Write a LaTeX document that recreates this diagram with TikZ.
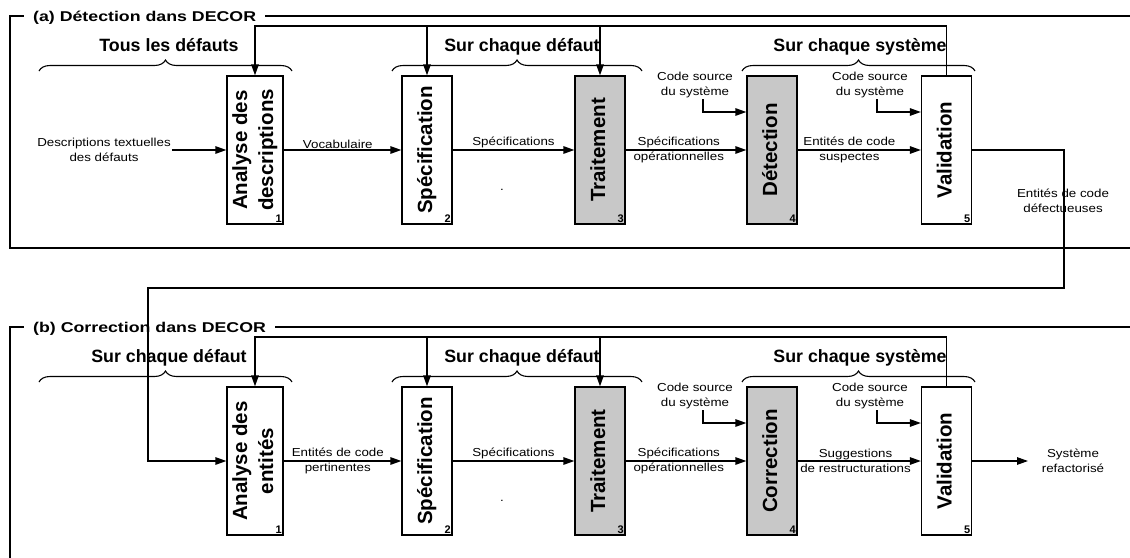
\documentclass[tikz,border=0pt]{standalone}
\usepackage{fontspec}
\setmainfont{Liberation Sans}
\newfontfamily\lblfont[FakeStretch=1.15]{Liberation Sans}
\newfontfamily\ttlfont[FakeStretch=1.25]{Liberation Sans}
\usepackage{graphicx}
\usetikzlibrary{arrows.meta}
\usetikzlibrary{decorations.pathreplacing}
\usetikzlibrary{positioning}

\definecolor{boxgray}{RGB}{200,200,200}
\newcommand{\stepname}[1]{\rotatebox{90}{\begin{tabular}{@{}c@{}}#1\end{tabular}}}

\tikzset{
  stepbox/.style={draw, line width=1.3pt, minimum width=50pt, minimum height=148pt, inner sep=0pt, font=\fontsize{20.5}{26}\selectfont\bfseries},
  darkbox/.style={stepbox, fill=boxgray},
  num/.style={anchor=south east, inner sep=1.8pt, font=\fontsize{11}{12}\selectfont\bfseries},
  lbl/.style={align=center, inner sep=1pt, font=\lblfont\fontsize{11.6}{15}\selectfont},
  ttl/.style={anchor=base west, fill=white, inner xsep=9pt, inner ysep=2pt, font=\ttlfont\fontsize{14.2}{17}\selectfont\bfseries},
  grp/.style={anchor=base, inner sep=0pt, font=\fontsize{17.8}{21}\selectfont\bfseries},
  panel/.style={line width=1.3pt},
  flow/.style={line width=1.3pt, -{Triangle[length=11pt, width=7.5pt]}},
  grpbrace/.style={decorate, decoration={brace, amplitude=11pt}, line width=1.1pt},
}

\begin{document}
\begin{tikzpicture}[x=1pt, y=-1pt]
	\useasboundingbox (0,0) rectangle (1130,557);

	% (a) detection
	\draw [panel] (1130,16) -- (10,16) -- (10,248) -- (1130,248);
	\node at (24,21) [ttl] (ttl1) {(a) Détection dans DECOR};

	\node at (169,51) [grp] (grp1) {Tous les défauts};
	\node at (522,51) [grp] (grp2) {Sur chaque défaut};
	\node at (860,51) [grp] (grp3) {Sur chaque système};
	\draw [grpbrace] (39,71) -- (292,71);
	\draw [grpbrace] (392,71) -- (642,71);
	\draw [grpbrace] (742,71) -- (975,71);

	\node at (255,150) [stepbox, minimum width=56pt] (ana1) {\stepname{Analyse des\\descriptions}};
	\node at (427,150) [stepbox] (spec1) {\stepname{Spécification}};
	\node at (600,150) [darkbox] (trt1) {\stepname{Traitement}};
	\node at (772,150) [darkbox] (det1) {\stepname{Détection}};
	\node at (946.5,150) [stepbox] (val1) {\stepname{Validation}};
	\node at (ana1.south east) [num] {1};
	\node at (spec1.south east) [num] {2};
	\node at (trt1.south east) [num] {3};
	\node at (det1.south east) [num] {4};
	\node at (val1.south east) [num] {5};

	\node at (104,150) [lbl] (in1) {Descriptions textuelles\\des défauts};
	\node at (695,85) [lbl] (src1) {Code source\\du système};
	\node at (870,85) [lbl] (src2) {Code source\\du système};
	\node at (1063,201) [lbl] (out1) {Entités de code\\défectueuses};
	\node at (502,190) [lbl] (dot1) {.};

	\draw [flow] (in1.east) -- (ana1.west);
	\draw [flow] (ana1) -- node [lbl, above, pos=0.46] {Vocabulaire} (spec1);
	\draw [flow] (spec1) -- node [lbl, above] {Spécifications} (trt1);
	\draw [flow] (trt1) -- node [lbl, pos=0.44] {Spécifications\\opérationnelles} (det1);
	\draw [flow] (det1) -- node [lbl, pos=0.42] {Entités de code\\suspectes} (val1);
	\draw [flow] ([xshift=8pt]src1.south) |- ([yshift=38pt]det1.west);
	\draw [flow] ([xshift=7pt]src2.south) |- ([yshift=38pt]val1.west);

	\coordinate (fbtop1) at (0,26);
	\draw [flow] (val1.north) |- (ana1.north |- fbtop1) -- (ana1.north);
	\draw [flow] (spec1.north |- fbtop1) -- (spec1.north);
	\draw [flow] (trt1.north |- fbtop1) -- (trt1.north);

	% (b) correction
	\draw [panel] (1130,327) -- (10,327) -- (10,570);
	\node at (24,332) [ttl] (ttl2) {(b) Correction dans DECOR};

	\node at (169,362) [grp] (grp4) {Sur chaque défaut};
	\node at (522,362) [grp] (grp5) {Sur chaque défaut};
	\node at (860,362) [grp] (grp6) {Sur chaque système};
	\draw [grpbrace] (39,382) -- (292,382);
	\draw [grpbrace] (392,382) -- (642,382);
	\draw [grpbrace] (742,382) -- (975,382);

	\node at (255,461) [stepbox, minimum width=56pt] (ana2) {\stepname{Analyse des\\entités}};
	\node at (427,461) [stepbox] (spec2) {\stepname{Spécification}};
	\node at (600,461) [darkbox] (trt2) {\stepname{Traitement}};
	\node at (772,461) [darkbox] (cor2) {\stepname{Correction}};
	\node at (946.5,461) [stepbox] (val2) {\stepname{Validation}};
	\node at (ana2.south east) [num] {1};
	\node at (spec2.south east) [num] {2};
	\node at (trt2.south east) [num] {3};
	\node at (cor2.south east) [num] {4};
	\node at (val2.south east) [num] {5};

	\node at (695,396) [lbl] (src3) {Code source\\du système};
	\node at (870,396) [lbl] (src4) {Code source\\du système};
	\node at (1073,461) [lbl] (out2) {Système\\refactorisé};
	\node at (502,501) [lbl] (dot2) {.};
	\coordinate (sysend) at (1028,461);

	\draw [flow] (ana2) -- node [lbl, pos=0.46] {Entités de code\\pertinentes} (spec2);
	\draw [flow] (spec2) -- node [lbl, above] {Spécifications} (trt2);
	\draw [flow] (trt2) -- node [lbl, pos=0.44] {Spécifications\\opérationnelles} (cor2);
	\draw [flow] (cor2) -- node [lbl, pos=0.47] {Suggestions\\de restructurations} (val2);
	\draw [flow] (val2) -- (sysend);
	\draw [flow] ([xshift=8pt]src3.south) |- ([yshift=38pt]cor2.west);
	\draw [flow] ([xshift=7pt]src4.south) |- ([yshift=38pt]val2.west);

	\coordinate (fbtop2) at (0,337);
	\draw [flow] (val2.north) |- (ana2.north |- fbtop2) -- (ana2.north);
	\draw [flow] (spec2.north |- fbtop2) -- (spec2.north);
	\draw [flow] (trt2.north |- fbtop2) -- (trt2.north);

	% from (a) to (b)
	\coordinate (turn1) at (1064,288);
	\coordinate (turn2) at (148,288);
	\draw [flow] (val1.east) -| (turn1) -- (turn2) |- (ana2.west);
\end{tikzpicture}
\end{document}
